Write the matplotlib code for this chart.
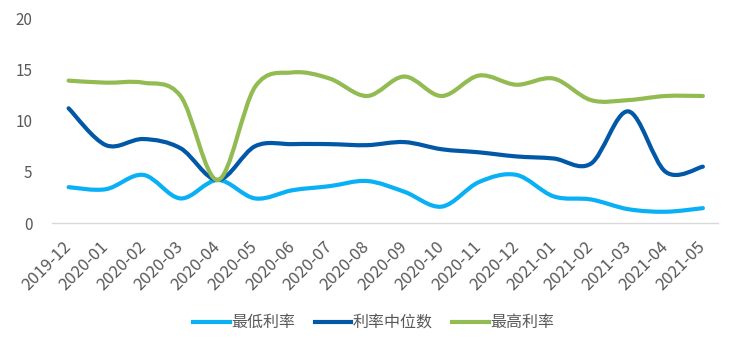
import numpy as np
import matplotlib
matplotlib.use('Agg')
import matplotlib.pyplot as plt
from matplotlib.path import Path
from matplotlib.patches import PathPatch
from matplotlib.lines import Line2D

plt.rcParams['font.family'] = ['Noto Sans CJK SC', 'DejaVu Sans']

months = ['2019-12', '2020-01', '2020-02', '2020-03', '2020-04', '2020-05',
          '2020-06', '2020-07', '2020-08', '2020-09', '2020-10', '2020-11',
          '2020-12', '2021-01', '2021-02', '2021-03', '2021-04', '2021-05']
rate_min = [3.5, 3.3, 4.7, 2.4, 4.2, 2.4, 3.2, 3.6, 4.1, 3.05, 1.6, 4.0,
            4.7, 2.6, 2.3, 1.35, 1.1, 1.45]
rate_mid = [11.2, 7.6, 8.2, 7.3, 4.2, 7.5, 7.7, 7.7, 7.6, 7.9, 7.2, 6.9,
            6.5, 6.3, 5.8, 10.9, 5.0, 5.5]
rate_max = [13.9, 13.7, 13.7, 12.4, 4.2, 13.3, 14.7, 14.1, 12.4, 14.3, 12.4, 14.4,
            13.5, 14.1, 12.0, 12.0, 12.4, 12.4]

series = [('最低利率', rate_min, '#0AB0F5'),
          ('利率中位数', rate_mid, '#0058A6'),
          ('最高利率', rate_max, '#92BB52')]


def smooth_path(xs, ys):
    # excel-like smoothed line: cubic bezier with catmull-rom control points
    pts = np.column_stack([xs, ys]).astype(float)
    ext = np.vstack([pts[0], pts, pts[-1]])
    verts = [pts[0]]
    codes = [Path.MOVETO]
    for i in range(len(pts) - 1):
        p0, p1, p2, p3 = ext[i], ext[i + 1], ext[i + 2], ext[i + 3]
        verts += [p1 + (p2 - p0) / 6, p2 - (p3 - p1) / 6, p2]
        codes += [Path.CURVE4] * 3
    return Path(verts, codes)


fig = plt.figure(figsize=(7.4, 3.49), dpi=100)
ax = fig.add_axes([0.07, 0.361, 0.9, 0.587])

x = np.arange(len(months))
handles = []
for name, vals, color in series:
    patch = PathPatch(smooth_path(x, vals), facecolor='none', edgecolor=color,
                      lw=3, capstyle='round', joinstyle='round')
    ax.add_patch(patch)
    handles.append(Line2D([], [], color=color, lw=3, label=name))

ax.set_xlim(-0.45, len(months) - 1 + 0.4)
ax.set_ylim(0, 20)
ax.set_yticks([0, 5, 10, 15, 20])
ax.set_xticks(x)
ax.set_xticklabels(months, rotation=45, ha='right', va='center',
                   rotation_mode='anchor', fontsize=12)
ax.tick_params(axis='both', length=0, colors='#595959')
ax.tick_params(axis='y', pad=14, labelsize=11)
ax.tick_params(axis='x', pad=15)
for s in ['top', 'right', 'left']:
    ax.spines[s].set_visible(False)
ax.spines['bottom'].set_color('#D9D9D9')
ax.spines['bottom'].set_linewidth(1)

fig.legend(handles=handles, loc='center', bbox_to_anchor=(0.505, 0.075), ncol=3,
           frameon=False, fontsize=11.5, handlelength=2.3, handletextpad=0.1,
           columnspacing=1.2, labelcolor='#595959')

fig.savefig('out.png', dpi=100)
